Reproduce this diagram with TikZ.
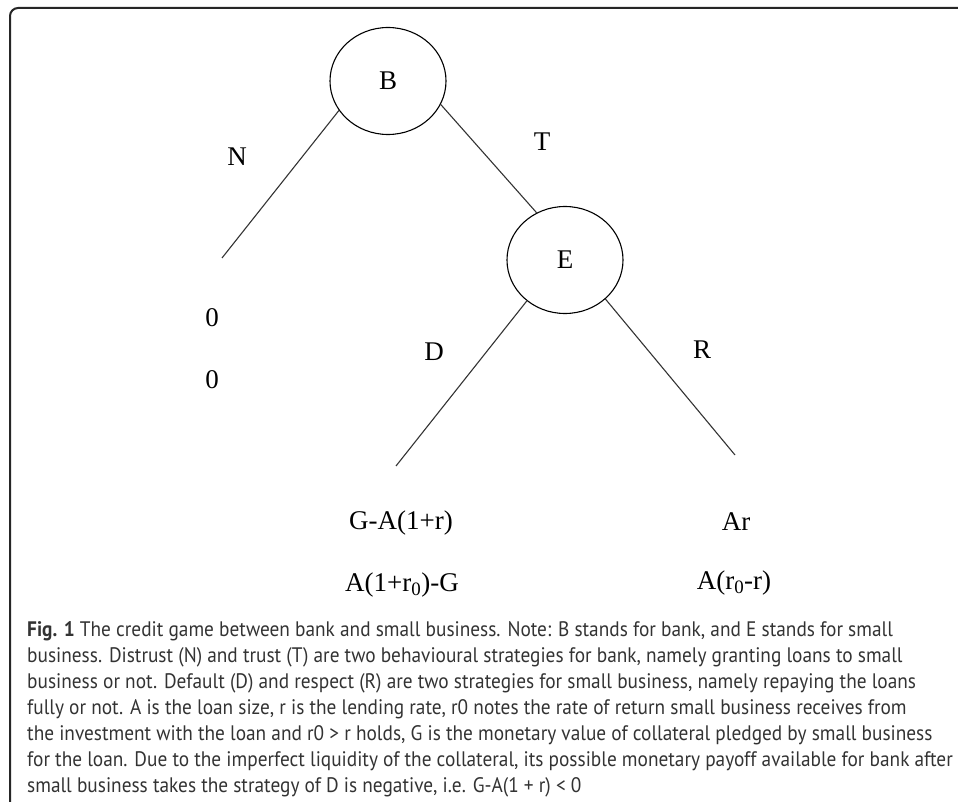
\documentclass[tikz,border=0pt]{standalone}
\usepackage{fontspec}
\usepackage{tikz}
\usetikzlibrary{shapes,positioning}
\newfontfamily\treefont{Liberation Serif}
\newfontfamily\capfont[FakeStretch=0.92]{PT Sans}

\begin{document}
\begin{tikzpicture}[x=1pt,y=-1pt,
    player/.style={draw, ellipse, line width=1.1pt, minimum width=116pt, minimum height=107pt, inner sep=0pt},
    lbl/.style={font=\treefont\fontsize{27}{30}\selectfont, inner sep=0pt}]
                    \useasboundingbox (0,0) rectangle (958,802);
                    \draw[line width=2pt, rounded corners=8pt, black!85] (960,8) -- (10,8) -- (10,804);

                    \node[player] (bank) at (388,81) {};
                    \node[lbl] at (bank) {B};
                    \node[player] (biz) at (565,260) {};
                    \node[lbl] at (biz) {E};

                    \coordinate (nEnd) at (222,258);
                    \coordinate (dEnd) at (396,466);
                    \coordinate (rEnd) at (735,455);

                    \draw[line width=1.1pt, black!80] (bank.211) -- (nEnd);
                    \draw[line width=1.1pt, black!80] (bank.336) -- (biz.121);
                    \draw[line width=1.1pt, black!80] (biz.227) -- (dEnd);
                    \draw[line width=1.1pt, black!80] (biz.316) -- (rEnd);

                    \node[lbl] (nLbl) at (237,157) {N};
                    \node[lbl] (tLbl) at (542,142) {T};
                    \node[lbl] (dLbl) at (434,352) {D};
                    \node[lbl] (rLbl) at (702,350) {R};

                    \node[lbl] (nPayB) at (212,318) {0};
                    \node[lbl] (nPayE) at (212,380) {0};
                    \node[lbl] (dPayB) at (401,523) {G-A(1+r)};
                    \node[lbl] (dPayE) at (402,585) {A(1+r\textsubscript{0})-G};
                    \node[lbl] (rPayB) at (736,522) {Ar};
                    \node[lbl] (rPayE) at (734,583) {A(r\textsubscript{0}-r)};

                    % caption, anchored at the baseline of its last line
                    \node[anchor=base west, align=left, inner sep=0pt, text=black!80,
                          font=\capfont\fontsize{21}{26}\selectfont] (caption) at (27,792)
                        {{\bfseries Fig. 1} The credit game between bank and small business. Note: B stands for bank, and E stands for small\\
                         business. Distrust (N) and trust (T) are two behavioural strategies for bank, namely granting loans to small\\
                         business or not. Default (D) and respect (R) are two strategies for small business, namely repaying the loans\\
                         fully or not. A is the loan size, r is the lending rate, r0 notes the rate of return small business receives from\\
                         the investment with the loan and r0 > r holds, G is the monetary value of collateral pledged by small business\\
                         for the loan. Due to the imperfect liquidity of the collateral, its possible monetary payoff available for bank after\\
                         small business takes the strategy of D is negative, i.e. G-A(1 + r) < 0};
                \end{tikzpicture}
\end{document}
